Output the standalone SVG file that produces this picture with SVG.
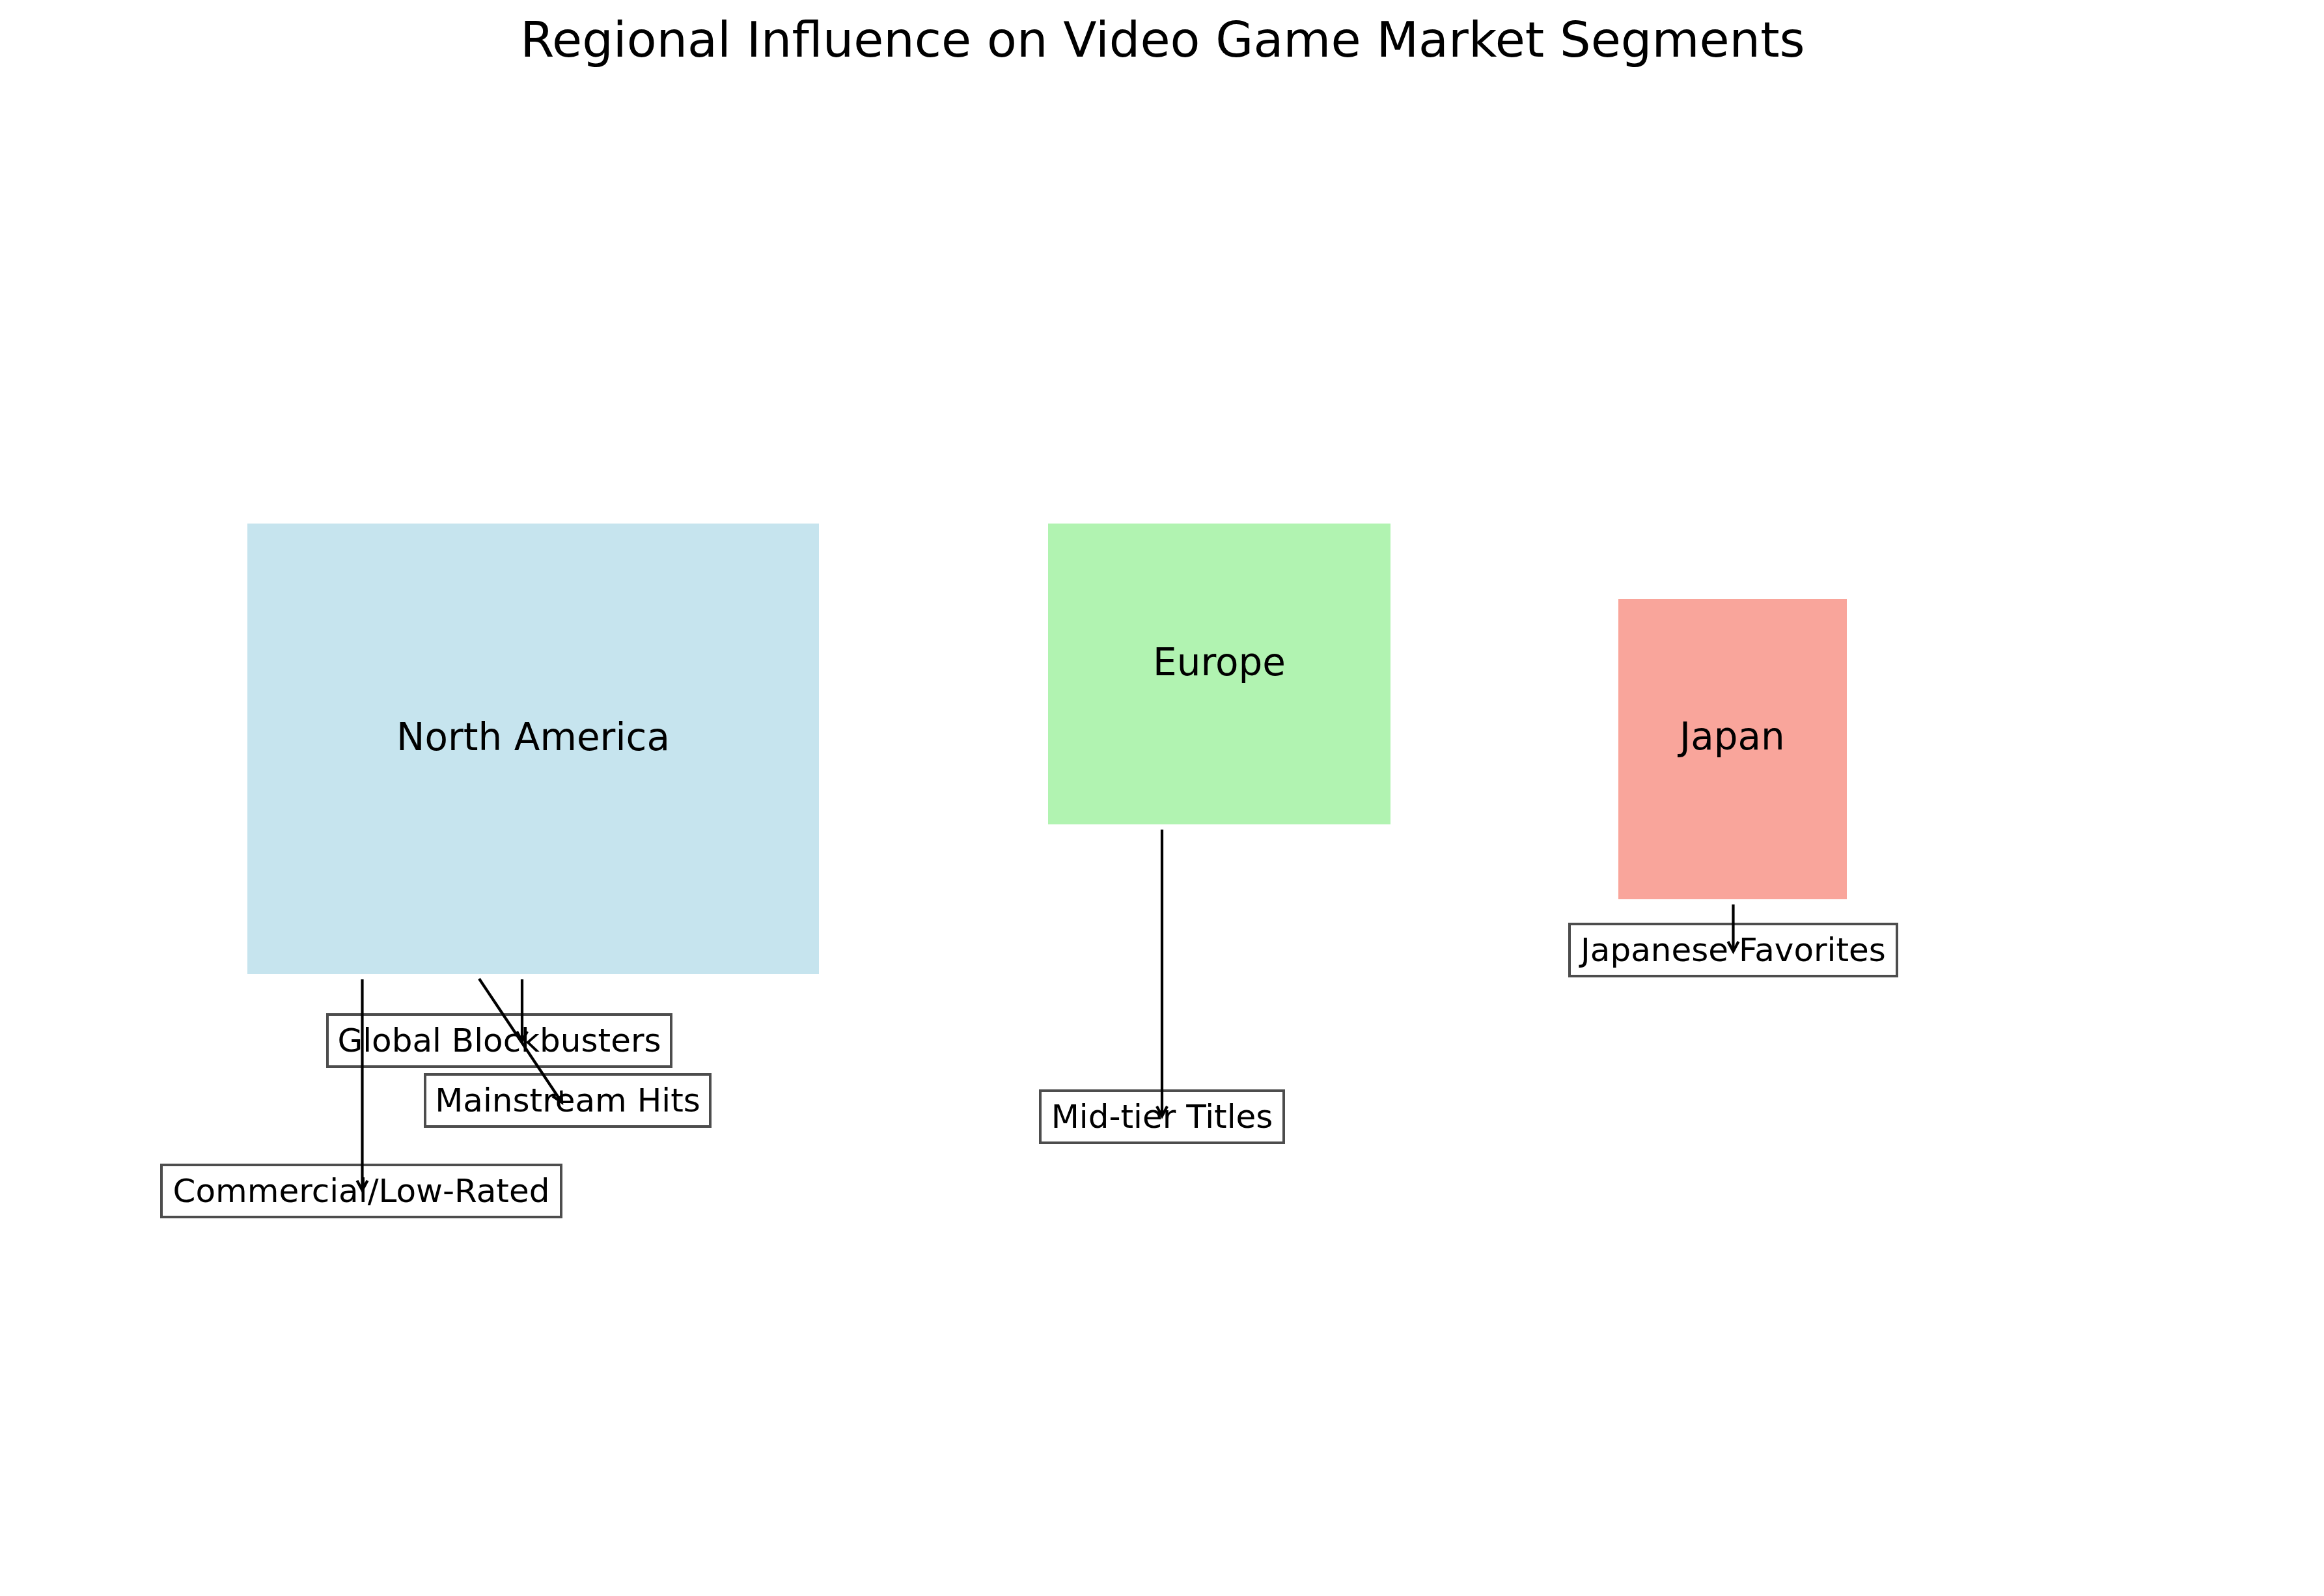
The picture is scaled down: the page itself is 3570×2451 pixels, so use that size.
<svg xmlns="http://www.w3.org/2000/svg" width="3570" height="2451" viewBox="0 0 3570 2451">
<style>
text { font-family: "DejaVu Sans", "Liberation Sans", sans-serif; fill: #000; }
.title { font-size: 75px; text-anchor: middle; }
.region { font-size: 58px; text-anchor: middle; }
.seg { font-size: 50px; text-anchor: middle; }
.box { fill: #ffffff; stroke: #4d4d4d; stroke-width: 4; }
.conn { stroke: #000; stroke-width: 4.2; fill: none; }
.head { stroke: #000; stroke-width: 4.2; fill: none; stroke-linejoin: miter; }
</style>
<rect x="0" y="0" width="3570" height="2451" fill="#ffffff"/>
<text class="title" x="1786" y="87">Regional Influence on Video Game Market Segments</text>

<g id="north-america">
<rect x="380" y="804" width="878" height="692" fill="#C6E4EE"/>
<text class="region" x="819" y="1152">North America</text>
</g>
<g id="europe">
<rect x="1610" y="804" width="526" height="462" fill="#B1F3B1"/>
<text class="region" x="1873" y="1037">Europe</text>
</g>
<g id="japan">
<rect x="2486" y="920" width="351" height="461" fill="#F9A59B"/>
<text class="region" x="2661" y="1151">Japan</text>
</g>

<g id="global-blockbusters">
<rect class="box" x="503" y="1558" width="528" height="80"/>
<text class="seg" x="767" y="1615">Global Blockbusters</text>
</g>
<g id="mainstream-hits">
<rect class="box" x="653" y="1650" width="438" height="80"/>
<text class="seg" x="872" y="1707">Mainstream Hits</text>
</g>
<g id="commercial-low-rated">
<rect class="box" x="248" y="1789" width="614" height="80"/>
<text class="seg" x="555" y="1846">Commercial/Low-Rated</text>
</g>
<g id="mid-tier-titles">
<rect class="box" x="1598" y="1675" width="374" height="80"/>
<text class="seg" x="1785" y="1732">Mid-tier Titles</text>
</g>
<g id="japanese-favorites">
<rect class="box" x="2411" y="1419" width="503" height="80"/>
<text class="seg" x="2662.5" y="1476">Japanese Favorites</text>
</g>

<g id="connectors">
<line class="conn" x1="556.5" y1="1504" x2="556.5" y2="1828"/>
<polyline class="head" points="548.5,1813 556.5,1828 564.5,1813"/>
<line class="conn" x1="802" y1="1504" x2="802" y2="1599"/>
<polyline class="head" points="794,1584 802,1599 810,1584"/>
<line class="conn" x1="736" y1="1503" x2="863" y2="1693"/>
<polyline class="head" points="848.9,1683.6 863,1693 862.2,1674.7"/>
<line class="conn" x1="1785" y1="1274" x2="1785" y2="1714"/>
<polyline class="head" points="1777,1699 1785,1714 1793,1699"/>
<line class="conn" x1="2662.5" y1="1389" x2="2662.5" y2="1461"/>
<polyline class="head" points="2654.5,1446 2662.5,1461 2670.5,1446"/>
</g>
</svg>
